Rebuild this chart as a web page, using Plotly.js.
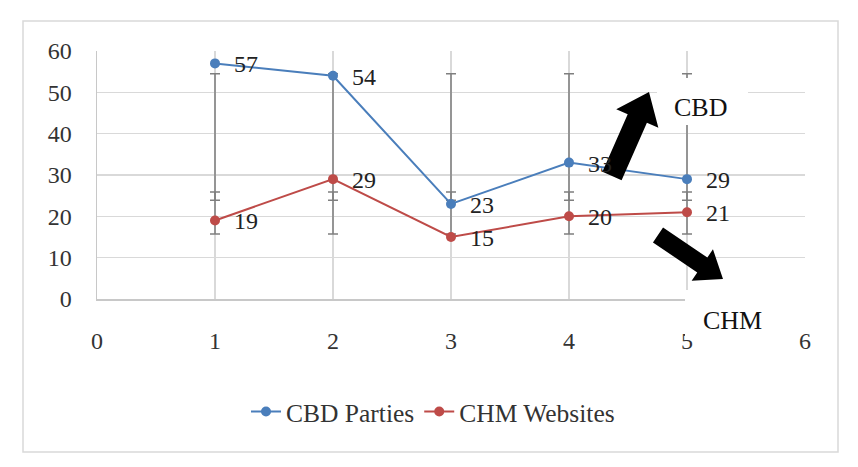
<!DOCTYPE html>
<html>
<head>
<meta charset="utf-8">
<script src="https://cdn.plot.ly/plotly-3.0.1.min.js"></script>
<style>
html,body{margin:0;padding:0;background:#fff;}
#chart{width:858px;height:467px;}
</style>
</head>
<body>
<div id="chart"></div>
<script>
// ---- data ----
const xValues = [1, 2, 3, 4, 5];
const cbdParties = [57, 54, 23, 33, 29];
const chmWebsites = [19, 29, 15, 20, 21];
// error bar extents
const cbdBarLow = [23.9, 23.9, 23.9, 23.9, 23.9];
const cbdBarHigh = [54.5, 54.5, 54.5, 54.5, 54.5];
const chmBarLow = [15.7, 15.7, 15.7, 15.7, 15.7];
const chmBarHigh = [25.9, 25.9, 25.9, 25.9, 25.9];
const xTicks = [0, 1, 2, 3, 4, 5, 6];
const yTicks = [0, 10, 20, 30, 40, 50, 60];
const seriesNames = ['CBD Parties', 'CHM Websites'];

// ---- layout geometry ----
const W = 858, H = 467;
const M = {l: 97, r: 53, t: 51, b: 168};
const PW = W - M.l - M.r, PH = H - M.t - M.b;
const px2x = p => (p - M.l) / PW;
const py2y = p => (H - M.b - p) / PH;

const FONT = 'Liberation Serif';
const BLUE = '#4a7ebb';
const RED = '#be4b48';
const GRAY = '#7f7f7f';

function arrowPath(tail, tip, sh, hh, hl) {
  const dx = tip[0] - tail[0], dy = tip[1] - tail[1];
  const len = Math.hypot(dx, dy);
  const ux = dx / len, uy = dy / len;
  const nx = -uy, ny = ux;
  const bx = tip[0] - ux * hl, by = tip[1] - uy * hl;
  const pts = [
    [tail[0] + nx * sh, tail[1] + ny * sh],
    [bx + nx * sh, by + ny * sh],
    [bx + nx * hh, by + ny * hh],
    tip,
    [bx - nx * hh, by - ny * hh],
    [bx - nx * sh, by - ny * sh],
    [tail[0] - nx * sh, tail[1] - ny * sh]
  ];
  return 'M' + pts.map(p => px2x(p[0]).toFixed(5) + ',' + py2y(p[1]).toFixed(5)).join('L') + 'Z';
}

function errTrace(low, high) {
  return {
    x: xValues, y: low, type: 'scatter', mode: 'markers',
    marker: {size: 1, color: 'rgba(0,0,0,0)'},
    error_y: {type: 'data', symmetric: false,
      array: high.map((h, i) => h - low[i]),
      arrayminus: low.map(() => 0),
      color: GRAY, thickness: 1.5, width: 5},
    showlegend: false, hoverinfo: 'skip'
  };
}

const traces = [
  errTrace(cbdBarLow, cbdBarHigh),
  errTrace(chmBarLow, chmBarHigh),
  {x: xValues, y: cbdParties, type: 'scatter', mode: 'lines+markers', name: seriesNames[0],
   line: {color: BLUE, width: 2}, marker: {color: BLUE, size: 10}},
  {x: xValues, y: chmWebsites, type: 'scatter', mode: 'lines+markers', name: seriesNames[1],
   line: {color: RED, width: 2}, marker: {color: RED, size: 10}}
];

const annotations = [];
[cbdParties, chmWebsites].forEach(arr => {
  arr.forEach((v, i) => {
    annotations.push({x: xValues[i], y: v, text: String(v), showarrow: false,
      xanchor: 'left', yanchor: 'middle', xshift: 17, yshift: -1,
      font: {family: FONT, size: 24, color: '#222'}});
  });
});
annotations.push({xref: 'paper', yref: 'paper', x: px2x(700), y: py2y(107), text: 'CBD',
  showarrow: false, xanchor: 'center', yanchor: 'middle', font: {family: FONT, size: 26, color: '#111'}});
annotations.push({xref: 'paper', yref: 'paper', x: px2x(732), y: py2y(320), text: 'CHM',
  showarrow: false, xanchor: 'center', yanchor: 'middle', font: {family: FONT, size: 26, color: '#111'}});

const shapes = [
  {type: 'rect', xref: 'paper', yref: 'paper', layer: 'below',
   x0: px2x(23), x1: px2x(838), y0: py2y(452), y1: py2y(21),
   line: {color: '#d9d9d9', width: 1.5}, fillcolor: 'rgba(0,0,0,0)'},
  {type: 'rect', xref: 'paper', yref: 'paper', layer: 'above',
   x0: px2x(657), x1: px2x(748), y0: py2y(125), y1: py2y(78),
   line: {width: 0}, fillcolor: '#ffffff'},
  {type: 'rect', xref: 'paper', yref: 'paper', layer: 'above',
   x0: px2x(685), x1: px2x(794), y0: py2y(337), y1: py2y(290),
   line: {width: 0}, fillcolor: '#ffffff'},
  {type: 'rect', xref: 'paper', yref: 'paper', layer: 'above',
   x0: px2x(794), x1: px2x(812), y0: py2y(302), y1: py2y(290),
   line: {width: 0}, fillcolor: '#ffffff'},
  {type: 'path', xref: 'paper', yref: 'paper', layer: 'above',
   path: arrowPath([612, 176], [649, 92], 10.5, 23, 29), fillcolor: '#000', line: {width: 0}},
  {type: 'path', xref: 'paper', yref: 'paper', layer: 'above',
   path: arrowPath([658, 235], [723, 279], 9, 19, 25), fillcolor: '#000', line: {width: 0}}
];

const layout = {
  width: W, height: H,
  margin: {l: M.l, r: M.r, t: M.t, b: M.b},
  paper_bgcolor: '#fff', plot_bgcolor: '#fff',
  font: {family: FONT, size: 24, color: '#333'},
  xaxis: {range: [0, 6], tickvals: xTicks, ticktext: xTicks.map(String),
    showgrid: true, gridcolor: '#d9d9d9', gridwidth: 1.5, zeroline: false,
    showline: true, linecolor: '#c8c8c8', linewidth: 1.5, ticks: '',
    ticklabelstandoff: 20, tickfont: {family: FONT, size: 24, color: '#333'}},
  yaxis: {range: [0, 60], tickvals: yTicks, ticktext: yTicks.map(String),
    showgrid: true, gridcolor: '#d9d9d9', gridwidth: 1.5, zeroline: false,
    showline: true, linecolor: '#c8c8c8', linewidth: 1.5, ticks: '',
    ticklabelstandoff: 19, tickfont: {family: FONT, size: 24, color: '#333'}},
  showlegend: true,
  legend: {orientation: 'h', x: px2x(433), xanchor: 'center', y: py2y(412), yanchor: 'middle',
    font: {family: FONT, size: 25.5, color: '#333'}, bgcolor: 'rgba(0,0,0,0)'},
  annotations: annotations,
  shapes: shapes
};

Plotly.newPlot('chart', traces, layout, {staticPlot: true, displayModeBar: false});
</script>
</body>
</html>
